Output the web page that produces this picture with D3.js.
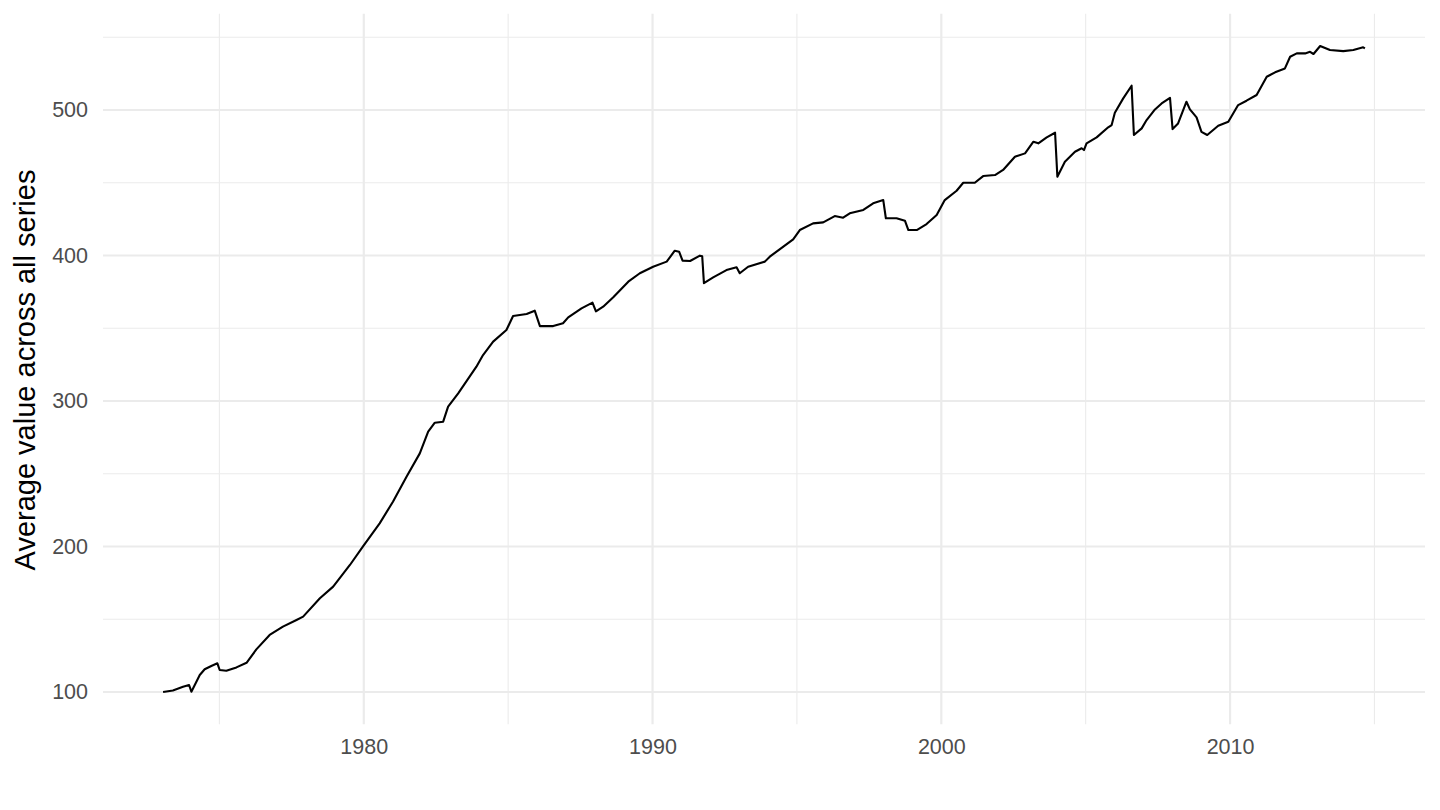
<!DOCTYPE html>
<html>
<head>
  <meta charset="utf-8">
  <script src="https://d3js.org/d3.v7.min.js"></script>
  <style>
    body { margin: 0; background: #fff; }
    text { font-family: "Liberation Sans", Arial, sans-serif; }
  </style>
</head>
<body>
<script>
// decimal year of each reading and the average value
var years = [1973.05, 1973.39, 1973.74, 1973.95, 1974.03, 1974.32, 1974.49, 1974.72, 1974.93, 1975.01,
  1975.24, 1975.59, 1975.94, 1976.28, 1976.74, 1977.2, 1977.67, 1977.9, 1978.48, 1978.94,
  1979.52, 1979.98, 1980.55, 1981.01, 1981.48, 1981.94, 1982.23, 1982.46, 1982.75, 1982.92,
  1983.27, 1983.9, 1984.13, 1984.48, 1984.94, 1985.17, 1985.64, 1985.92, 1986.1, 1986.56,
  1986.9, 1987.08, 1987.54, 1987.92, 1988.04, 1988.29, 1988.64, 1989.16, 1989.56, 1990.02,
  1990.49, 1990.77, 1990.92, 1991.04, 1991.3, 1991.64, 1991.72, 1991.78, 1992.1, 1992.56,
  1992.91, 1993.02, 1993.31, 1993.89, 1994.06, 1994.87, 1995.1, 1995.56, 1995.91, 1996.31,
  1996.6, 1996.83, 1997.3, 1997.64, 1997.99, 1998.08, 1998.45, 1998.74, 1998.86, 1999.15,
  1999.49, 1999.84, 2000.12, 2000.53, 2000.76, 2001.16, 2001.45, 2001.86, 2002.14, 2002.55,
  2002.9, 2003.19, 2003.36, 2003.65, 2003.94, 2004.02, 2004.28, 2004.63, 2004.86, 2004.94,
  2005.03, 2005.38, 2005.78, 2005.9, 2006.01, 2006.3, 2006.59, 2006.67, 2006.94, 2007.11,
  2007.4, 2007.63, 2007.92, 2008.01, 2008.2, 2008.49, 2008.61, 2008.84, 2009.01, 2009.21,
  2009.59, 2009.94, 2010.28, 2010.57, 2010.92, 2011.27, 2011.56, 2011.9, 2012.08, 2012.31,
  2012.6, 2012.77, 2012.89, 2013.12, 2013.46, 2013.92, 2014.27, 2014.61, 2014.67];
var values = [100, 101, 103.6, 104.8, 100.2, 111.7, 115.6, 117.9, 119.7, 115.1,
  114.6, 116.9, 120.1, 129.3, 139.2, 144.9, 149.5, 151.8, 164.4, 172.4,
  187.3, 200.3, 215.9, 230.8, 248, 264, 278.9, 285.1, 285.8, 296.1,
  305.3, 323.6, 331.6, 340.8, 348.8, 358.4, 359.8, 362.1, 351.5, 351.5,
  353.4, 357.5, 363.7, 367.6, 361.6, 364.8, 371.3, 382, 387.8, 392.3,
  395.8, 403.3, 402.6, 396.5, 396.2, 399.9, 399.5, 381, 385, 390,
  391.9, 387.8, 392.3, 395.8, 399.2, 411.1, 417.5, 422.1, 422.8, 427.1,
  426, 429, 431.3, 435.9, 438.1, 425.6, 425.6, 423.9, 417.5, 417.5,
  421.6, 427.8, 438.1, 444.5, 450, 450, 454.6, 455.3, 458.8, 467.9,
  470.2, 478.2, 477.1, 481.2, 484.4, 454.2, 464.5, 471.3, 473.7, 472.5,
  477.1, 481.2, 488.1, 489.7, 498.1, 508, 516.7, 482.8, 487.4, 493.1,
  500.4, 504.5, 508.4, 486.9, 490.8, 505.7, 500.4, 494.9, 485, 482.8,
  489.2, 491.9, 503.4, 506.4, 510.3, 522.9, 525.9, 528.6, 536.6, 538.9,
  538.9, 540, 538.5, 544, 541.2, 540.5, 541.2, 543.1, 542.4];

var yTicks = [100, 200, 300, 400, 500];
var yMinor = [150, 250, 350, 450, 550];
var xTicks = [1980, 1990, 2000, 2010];
var xMinor = [1975, 1985, 1995, 2005, 2015];
var yTitle = "Average value across all series";

var W = 1440, H = 810;
var pLeft = 103, pRight = 1425, pTop = 13.7, pBottom = 724.3;

var svg = d3.select("body").append("svg")
  .attr("width", W).attr("height", H);

var data = years.map(function (d, i) { return {x: d, y: values[i]}; });

// ggplot-like 5% expansion
var xr = d3.extent(years), xp = (xr[1] - xr[0]) * 0.05;
var yr = d3.extent(values), yp = (yr[1] - yr[0]) * 0.05;

var x = d3.scaleLinear().domain([xr[0] - xp, xr[1] + xp]).range([pLeft, pRight]);
var y = d3.scaleLinear().domain([yr[0] - yp, yr[1] + yp]).range([pBottom, pTop]);

var grid = svg.append("g");

//minor grid
grid.selectAll(".ym").data(yMinor).enter().append("line")
  .attr("x1", pLeft).attr("x2", pRight)
  .attr("y1", function (d) { return y(d); }).attr("y2", function (d) { return y(d); })
  .attr("stroke", "#EBEBEB").attr("stroke-width", 1.1);
grid.selectAll(".xm").data(xMinor).enter().append("line")
  .attr("y1", pTop).attr("y2", pBottom)
  .attr("x1", function (d) { return x(d); }).attr("x2", function (d) { return x(d); })
  .attr("stroke", "#EBEBEB").attr("stroke-width", 1.1);

//major grid
grid.selectAll(".yM").data(yTicks).enter().append("line")
  .attr("x1", pLeft).attr("x2", pRight)
  .attr("y1", function (d) { return y(d); }).attr("y2", function (d) { return y(d); })
  .attr("stroke", "#EBEBEB").attr("stroke-width", 2.2);
grid.selectAll(".xM").data(xTicks).enter().append("line")
  .attr("y1", pTop).attr("y2", pBottom)
  .attr("x1", function (d) { return x(d); }).attr("x2", function (d) { return x(d); })
  .attr("stroke", "#EBEBEB").attr("stroke-width", 2.2);

//axes, ticks hidden like theme_minimal
var xAxis = svg.append("g")
  .attr("transform", "translate(0," + pBottom + ")")
  .call(d3.axisBottom(x).tickValues(xTicks).tickFormat(d3.format("d")).tickSize(0).tickPadding(14));
var yAxis = svg.append("g")
  .attr("transform", "translate(" + pLeft + ",0)")
  .call(d3.axisLeft(y).tickValues(yTicks).tickSize(0).tickPadding(15));
[xAxis, yAxis].forEach(function (a) {
  a.select(".domain").remove();
  a.selectAll("text").attr("fill", "#4D4D4D").style("font-size", "21.5px")
    .style("font-family", "'Liberation Sans', Arial, sans-serif");
});

svg.append("text")
  .attr("transform", "translate(35,370) rotate(-90)")
  .attr("text-anchor", "middle")
  .style("font-size", "29px")
  .attr("fill", "#000")
  .text(yTitle);

svg.append("path")
  .datum(data)
  .attr("fill", "none")
  .attr("stroke", "#000")
  .attr("stroke-width", 2.1)
  .attr("stroke-linejoin", "round")
  .attr("d", d3.line().x(function (d) { return x(d.x); }).y(function (d) { return y(d.y); }));
</script>
</body>
</html>
